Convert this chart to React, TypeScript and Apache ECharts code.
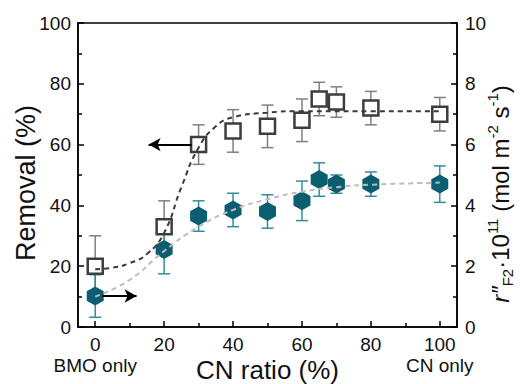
import React, { useEffect, useRef } from "react";
import * as echarts from "echarts";

const xValues = [0, 20, 30, 40, 50, 60, 65, 70, 80, 100];
const removal = [20, 33, 60, 64.5, 66, 68, 75, 74, 72, 70];
const removalErr = [10, 8.5, 6.5, 7, 7, 7, 5.5, 5, 5.5, 5.5];
const rate = [1.02, 2.55, 3.65, 3.85, 3.8, 4.15, 4.85, 4.7, 4.7, 4.7];
const rateErr = [0.7, 0.8, 0.5, 0.55, 0.55, 0.65, 0.55, 0.3, 0.4, 0.6];

const fitRemovalX = [0, 5, 10, 15, 20, 25, 30, 35, 40, 50, 60, 80, 100];
const fitRemovalY = [19, 19.5, 21, 24, 31, 46, 59, 66, 69, 70.5, 71, 71, 71];
const fitRateX = [0, 10, 20, 30, 40, 50, 60, 70, 80, 100];
const fitRateY = [1.0, 1.55, 2.5, 3.3, 3.85, 4.2, 4.45, 4.6, 4.68, 4.75];

const xMajorTicks = [0, 20, 40, 60, 80, 100];
const xMinorTicks = [10, 30, 50, 70, 90];
const xNoteTicks = [0, 100];
const xEndNotes: Record<number, string> = { 0: "BMO only", 100: "CN only" };

const FONT = "Liberation Sans";
const HEX = "path://M0,-1 L0.866,-0.5 L0.866,0.5 L0,1 L-0.866,0.5 L-0.866,-0.5 Z";

function errorSeries(vals: number[], errs: number[], yAxisIndex: number, color: string) {
  return {
    type: "custom",
    yAxisIndex,
    z: 1,
    silent: true,
    data: xValues.map((x, i) => [x, vals[i] - errs[i], vals[i] + errs[i]]),
    renderItem: (params: any, api: any) => {
      const lo = api.coord([api.value(0), api.value(1)]);
      const hi = api.coord([api.value(0), api.value(2)]);
      const w = 6;
      const style = { stroke: color, lineWidth: 1.5 };
      return {
        type: "group",
        children: [
          { type: "line", shape: { x1: lo[0], y1: lo[1], x2: hi[0], y2: hi[1] }, style },
          { type: "line", shape: { x1: lo[0] - w, y1: lo[1], x2: lo[0] + w, y2: lo[1] }, style },
          { type: "line", shape: { x1: hi[0] - w, y1: hi[1], x2: hi[0] + w, y2: hi[1] }, style },
        ],
      };
    },
  };
}

export default function App() {
  const ref = useRef<HTMLDivElement>(null);
  useEffect(() => {
    const chart = echarts.init(ref.current!, null, { renderer: "svg" });
    const axisLine = { show: true, onZero: false, lineStyle: { color: "#000", width: 1.5 } };
    chart.setOption({
      animation: false,
      grid: {
        left: 78,
        right: 63,
        top: 23,
        bottom: 57,
        outerBoundsMode: "none",
        containLabel: false,
        show: true,
        borderColor: "#000",
        borderWidth: 1.5,
      },
      graphic: [
        {
          type: "text",
          x: 26,
          y: 183,
          rotation: Math.PI / 2,
          silent: true,
          style: {
            text: "Removal (%)",
            fontFamily: FONT,
            fontSize: 27,
            fill: "#111",
            align: "center",
            verticalAlign: "middle",
          },
        },
        {
          type: "text",
          x: 500,
          y: 194,
          rotation: Math.PI / 2,
          silent: true,
          style: {
            text: "{i|r\u2033}{sub|F2}{b|\u00b710}{sup|11}{b| (mol m}{sup|-2}{b| s}{sup|-1}{b|)}",
            fontFamily: FONT,
            fontSize: 24,
            fill: "#111",
            align: "center",
            verticalAlign: "middle",
            rich: {
              i: { fontFamily: FONT, fontSize: 24, fontStyle: "italic", fill: "#111", lineHeight: 30 },
              b: { fontFamily: FONT, fontSize: 24, fill: "#111", lineHeight: 30 },
              sub: { fontFamily: FONT, fontSize: 15, fill: "#111", lineHeight: 14, verticalAlign: "bottom" },
              sup: { fontFamily: FONT, fontSize: 15, fill: "#111", lineHeight: 14, verticalAlign: "top" },
            },
          },
        },
      ],
      xAxis: [
        {
          type: "value",
          min: -5,
          max: 105,
          position: "bottom",
          axisLine,
          splitLine: { show: false },
          axisTick: { inside: true, length: 6, customValues: xMajorTicks, lineStyle: { color: "#000", width: 1.5 } },
          axisLabel: {
            customValues: xMajorTicks,
            showMinLabel: true,
            showMaxLabel: true,
            hideOverlap: false,
            margin: 8,
            fontFamily: FONT,
            fontSize: 19,
            color: "#111",
          },
          name: "CN ratio (%)",
          nameLocation: "middle",
          nameGap: 30,
          nameMoveOverlap: false,
          nameTextStyle: { fontFamily: FONT, fontSize: 26, color: "#111" },
        },
        {
          type: "value",
          min: -5,
          max: 105,
          position: "bottom",
          axisLine: { show: false, onZero: false },
          splitLine: { show: false },
          axisTick: { inside: true, length: 4, customValues: xMinorTicks, lineStyle: { color: "#000", width: 1.5 } },
          axisLabel: {
            customValues: xNoteTicks,
            showMinLabel: true,
            showMaxLabel: true,
            hideOverlap: false,
            margin: 29,
            fontFamily: FONT,
            fontSize: 19,
            color: "#111",
            formatter: (v: number) => xEndNotes[v] || "",
          },
        },
      ],
      yAxis: [
        {
          type: "value",
          min: 0,
          max: 100,
          interval: 20,
          position: "left",
          axisLine,
          splitLine: { show: false },
          axisTick: { inside: true, length: 6, lineStyle: { color: "#000", width: 1.5 } },
          minorTick: { show: true, splitNumber: 2, length: 4, lineStyle: { color: "#000", width: 1.5 } },
          axisLabel: { margin: 7, fontFamily: FONT, fontSize: 19, color: "#111", hideOverlap: false, showMinLabel: true },
        },
        {
          type: "value",
          min: 0,
          max: 10,
          interval: 2,
          position: "right",
          axisLine,
          splitLine: { show: false },
          axisTick: { inside: true, length: 6, lineStyle: { color: "#000", width: 1.5 } },
          minorTick: { show: true, splitNumber: 2, length: 4, lineStyle: { color: "#000", width: 1.5 } },
          axisLabel: { margin: 8, fontFamily: FONT, fontSize: 19, color: "#111", hideOverlap: false, showMinLabel: true },
        },
      ],
      series: [
        errorSeries(removal, removalErr, 0, "#808080"),
        errorSeries(rate, rateErr, 1, "#2f8e9e"),
        {
          type: "scatter",
          yAxisIndex: 0,
          z: 2,
          symbol: "rect",
          symbolSize: 15,
          itemStyle: { color: "#fff", borderColor: "#3d3d3d", borderWidth: 2.5, opacity: 1 },
          data: xValues.map((x, i) => [x, removal[i]]),
          markLine: {
            silent: true,
            symbol: ["none", "arrow"],
            symbolSize: [10, 12],
            label: { show: false },
            lineStyle: { color: "#000", width: 2, type: "solid" },
            data: [[{ coord: [28, 60] }, { coord: [15.5, 60] }]],
          },
        },
        {
          type: "scatter",
          yAxisIndex: 1,
          z: 2,
          symbol: HEX,
          symbolSize: [17, 19],
          itemStyle: { color: "#0b5d70", opacity: 1 },
          data: xValues.map((x, i) => [x, rate[i]]),
          markLine: {
            silent: true,
            symbol: ["none", "arrow"],
            symbolSize: [10, 12],
            label: { show: false },
            lineStyle: { color: "#000", width: 2, type: "solid" },
            data: [[{ coord: [2, 1.02] }, { coord: [12, 1.02] }]],
          },
        },
        {
          type: "line",
          yAxisIndex: 0,
          z: 3,
          smooth: true,
          showSymbol: false,
          symbol: "none",
          lineStyle: { color: "#3a3a3a", width: 2, type: [5, 4] },
          data: fitRemovalX.map((x, i) => [x, fitRemovalY[i]]),
        },
        {
          type: "line",
          yAxisIndex: 1,
          z: 3,
          smooth: true,
          showSymbol: false,
          symbol: "none",
          lineStyle: { color: "#bdbdbd", width: 2, type: [5, 4] },
          data: fitRateX.map((x, i) => [x, fitRateY[i]]),
        },
      ],
    });
    return () => chart.dispose();
  }, []);
  return (
    <div
      ref={ref}
      style={{ position: "fixed", left: 0, top: 0, width: 520, height: 384, background: "#fff" }}
    />
  );
}
